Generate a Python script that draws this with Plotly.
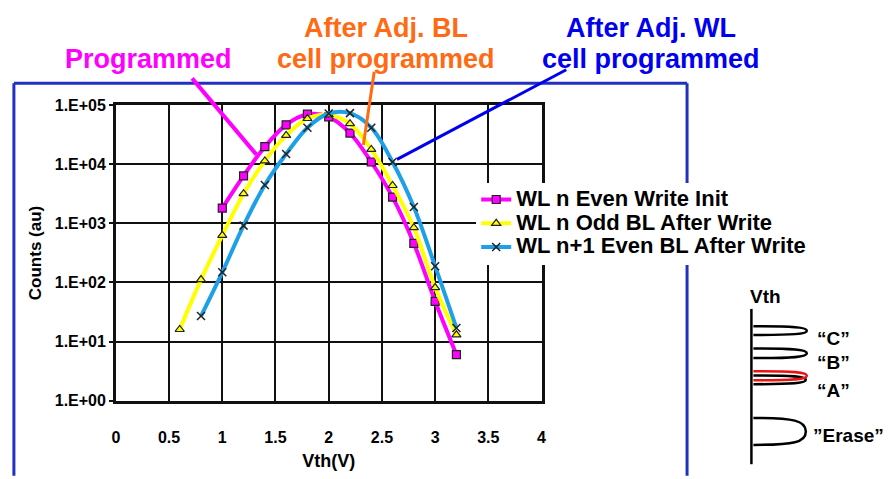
import plotly.graph_objects as go

W, H = 895, 479
FONT = "Liberation Sans, Arial, sans-serif"

# Vth distribution data (counts in arbitrary units)
vth_init = [1.0, 1.2, 1.4, 1.6, 1.8, 2.0, 2.2, 2.4, 2.6, 2.8, 3.0, 3.2]
cnt_init = [1820, 6400, 20000, 47000, 71000, 64000, 34000, 11000, 2800, 460, 48, 6.0]

vth_odd = [0.6, 0.8, 1.0, 1.2, 1.4, 1.6, 1.8, 2.0, 2.2, 2.4, 2.6, 2.8, 3.0, 3.2]
cnt_odd = [16, 112, 630, 3200, 11500, 31000, 60000, 69000, 49000, 18000, 4400, 850, 82, 13]

vth_wl1 = [0.8, 1.0, 1.2, 1.4, 1.6, 1.8, 2.0, 2.2, 2.4, 2.6, 2.8, 3.0, 3.2]
cnt_wl1 = [27, 149, 920, 4500, 15000, 42000, 73000, 74000, 42000, 11000, 1900, 189, 17]

series_names = ["WL n Even Write Init", "WL n Odd BL After Write", "WL n+1 Even BL After Write"]
y_tickvals = [1, 10, 100, 1000, 10000, 100000]
y_ticktext = ["1.E+00", "1.E+01", "1.E+02", "1.E+03", "1.E+04", "1.E+05"]


def px(x):
    return x / W


def py(y):
    return 1 - y / H


def legend_label(s):
    # larger glyphs than the legend's base size keep the rows compact
    return f"<span style='font-size:22px'>{s}</span>"


fig = go.Figure()

fig.add_trace(go.Scatter(
    x=vth_init, y=cnt_init, name=legend_label(series_names[0]), mode="lines+markers",
    line=dict(color="#FF00FF", width=4, shape="spline", smoothing=1.0),
    marker=dict(symbol="square", size=8, color="#FF00FF",
                line=dict(color="#222222", width=1.2)),
))
fig.add_trace(go.Scatter(
    x=vth_odd, y=cnt_odd, name=legend_label(series_names[1]), mode="lines+markers",
    line=dict(color="#FFFF00", width=4, shape="spline", smoothing=1.0),
    marker=dict(symbol="triangle-up", size=8, color="#FFFF00",
                line=dict(color="#222222", width=1.2)),
))
fig.add_trace(go.Scatter(
    x=vth_wl1, y=cnt_wl1, name=legend_label(series_names[2]), mode="lines+markers",
    line=dict(color="#1EA0E8", width=4, shape="spline", smoothing=1.0),
    marker=dict(symbol="x-thin", size=8, color="#222222",
                line=dict(color="#222222", width=1.5)),
))

shapes = []
annotations = []

# blue frame around the chart
FRAME = "#2030C0"
for (x0, y0, x1, y1) in [(10, 78, 690, 78), (10, 78, 10, 485), (690, 78, 690, 485)]:
    shapes.append(dict(type="line", xref="paper", yref="paper",
                       x0=px(x0), y0=py(y0), x1=px(x1), y1=py(y1),
                       line=dict(color=FRAME, width=3)))

# callout leaders
for (x0, y0, x1, y1, c, w) in [
    (190, 73, 255, 152, "#FF00FF", 4),
    (374, 66, 363, 142, "#FF6A13", 3),
    (568, 64, 397, 157, "#0000F0", 3),
]:
    shapes.append(dict(type="line", xref="paper", yref="paper",
                       x0=px(x0), y0=py(y0), x1=px(x1), y1=py(y1),
                       line=dict(color=c, width=w)))

for (txt, x, y, c) in [
    ("Programmed", 146, 53, "#FF00FF"),
    ("After Adj. BL", 386, 21, "#FF6A13"),
    ("cell programmed", 386, 53, "#FF6A13"),
    ("After Adj. WL", 654, 21, "#0000F0"),
    ("cell programmed", 654, 53, "#0000F0"),
]:
    annotations.append(dict(text=txt, xref="paper", yref="paper", x=px(x), y=py(y),
                            xanchor="center", yanchor="middle", showarrow=False,
                            font=dict(family=FONT, size=27, color=c, weight="bold")))

# Vth state sketch
shapes.append(dict(type="line", xref="paper", yref="paper",
                   x0=px(755), y0=py(312), x1=px(755), y1=py(473),
                   line=dict(color="black", width=2.5)))


def lobe(yt, yb, xt, color):
    ym = (yt + yb) / 2
    h = yb - yt
    pts = [(757, yt), (798, yt), (xt, yt + 0.1 * h), (xt, ym),
           (xt, yb - 0.1 * h), (798, yb), (757, yb)]
    p = [f"{px(a):.5f},{py(b):.5f}" for a, b in pts]
    path = f"M {p[0]} C {p[1]} {p[2]} {p[3]} C {p[4]} {p[5]} {p[6]}"
    return dict(type="path", xref="paper", yref="paper", path=path,
                line=dict(color=color, width=2.5))


shapes.append(lobe(330, 339, 811, "black"))
shapes.append(lobe(353, 363, 811, "black"))
shapes.append(lobe(381, 390, 810, "black"))
shapes.append(lobe(376.5, 386, 811, "#EE1111"))
shapes.append(lobe(425, 453, 810, "black"))

for (txt, x, y) in [("Vth", 769, 299), ("\u201cC\u201d", 838, 343), ("\u201cB\u201d", 838, 368),
                    ("\u201cA\u201d", 838, 397), ("\u201dErase\u201d", 853, 443)]:
    annotations.append(dict(text=txt, xref="paper", yref="paper", x=px(x), y=py(y),
                            xanchor="center", yanchor="middle", showarrow=False,
                            font=dict(family=FONT, size=19, color="black", weight="bold")))

fig.update_layout(
    width=W, height=H,
    margin=dict(l=0, r=0, t=0, b=0),
    paper_bgcolor="white", plot_bgcolor="white",
    font=dict(family=FONT, color="black"),
    showlegend=True,
    legend=dict(x=px(477), y=py(181), xanchor="left", yanchor="top",
                bgcolor="white", borderwidth=0,
                font=dict(family=FONT, size=16, color="black", weight="bold"),
                itemwidth=30, tracegroupgap=0),
    shapes=shapes,
    annotations=annotations,
    xaxis=dict(
        domain=[px(113), px(543)], range=[0, 4], dtick=0.5, tick0=0,
        showgrid=True, gridcolor="#111111", gridwidth=2,
        showline=True, linecolor="#111111", linewidth=2.5, mirror=True,
        zeroline=False, ticks="", ticklabelstandoff=20,
        tickfont=dict(family=FONT, size=16, color="black", weight="bold"),
        title=dict(text="Vth(V)", standoff=10,
                   font=dict(family=FONT, size=18, color="black", weight="bold")),
    ),
    yaxis=dict(
        domain=[py(407), py(101)], type="log", range=[0, 5],
        tickvals=y_tickvals, ticktext=y_ticktext,
        showgrid=True, gridcolor="#111111", gridwidth=2,
        showline=True, linecolor="#111111", linewidth=2.5, mirror=True,
        zeroline=False, ticks="outside", ticklen=4, tickwidth=1.5, tickcolor="#111111",
        tickfont=dict(family=FONT, size=16, color="black", weight="bold"),
        title=dict(text="Counts (au)", standoff=9,
                   font=dict(family=FONT, size=17, color="black", weight="bold")),
    ),
)

fig.write_html("out.html")
